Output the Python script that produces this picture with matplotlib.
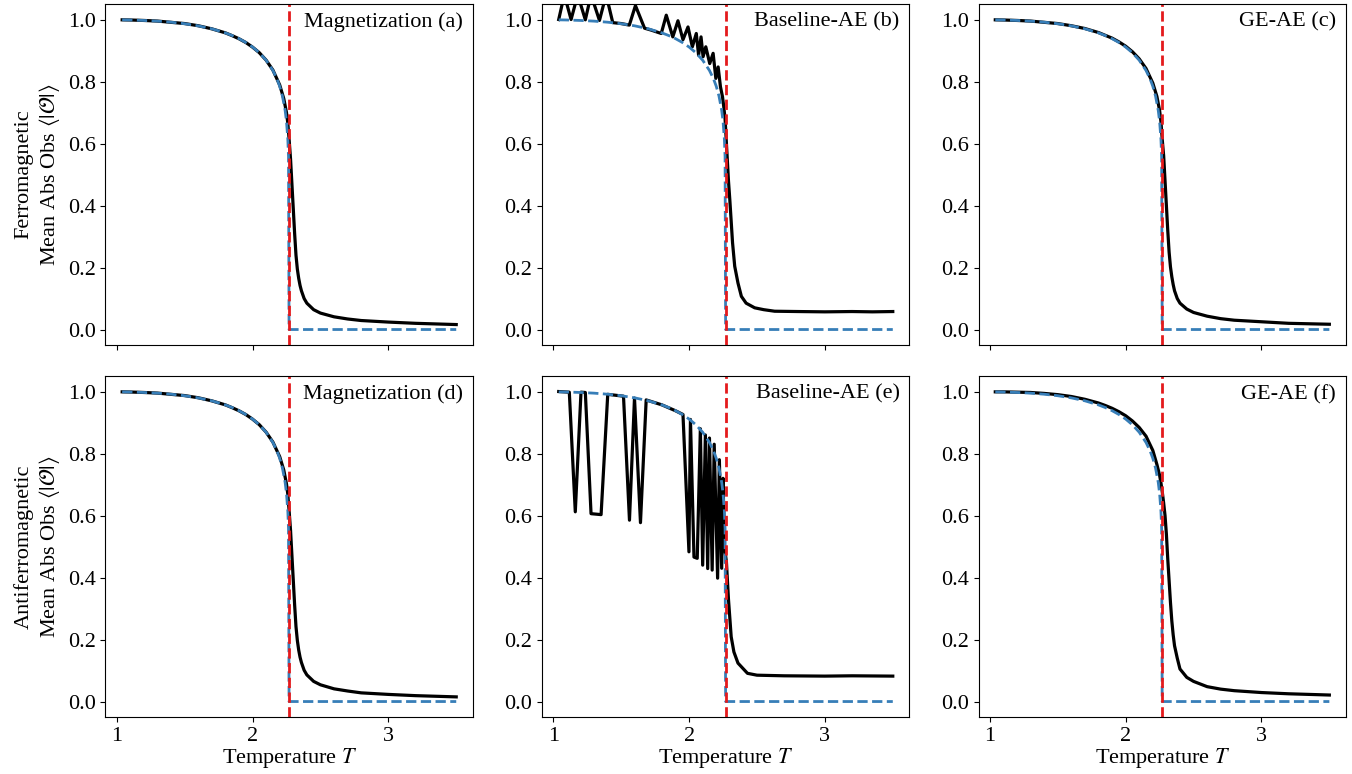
import numpy as np
import matplotlib
matplotlib.use('Agg')
import matplotlib.pyplot as plt

plt.rcParams['font.family'] = 'serif'
plt.rcParams['font.serif'] = ['Liberation Serif', 'DejaVu Serif']
plt.rcParams['mathtext.fontset'] = 'stix'
plt.rcParams['font.size'] = 16

T_C = 2.269

# exact (Onsager) curve
T_exact = [1.04, 1.1, 1.2, 1.3, 1.4, 1.5, 1.6, 1.7, 1.8, 1.85, 1.9, 1.95,
           2.0, 2.05, 2.1, 2.15, 2.18, 2.2, 2.22, 2.24, 2.25, 2.26, 2.265,
           2.269, 3.5]
m_exact = [0.999, 0.9985, 0.997, 0.9948, 0.9914, 0.9865, 0.9796, 0.9701,
           0.9569, 0.9484, 0.9383, 0.9261, 0.9113, 0.8928, 0.8688, 0.8357,
           0.8085, 0.7848, 0.7535, 0.7072, 0.6718, 0.6138, 0.557, 0.0, 0.0]

# smooth estimators (magnetization, GE-AE)
T_mc = [1.04, 1.1, 1.2, 1.3, 1.4, 1.5, 1.6, 1.7, 1.8, 1.85, 1.9, 1.95, 2.0,
        2.05, 2.1, 2.15, 2.2, 2.23, 2.25, 2.26, 2.27, 2.28, 2.29, 2.30, 2.31,
        2.32, 2.33, 2.34, 2.35, 2.36, 2.38, 2.40, 2.45, 2.5, 2.6, 2.7, 2.8,
        3.0, 3.2, 3.5]

mag_ferro = [0.999, 0.9985, 0.997, 0.995, 0.991, 0.987, 0.980, 0.970, 0.957,
             0.948, 0.938, 0.926, 0.911, 0.893, 0.869, 0.837, 0.789, 0.745,
             0.700, 0.665, 0.610, 0.550, 0.470, 0.390, 0.310, 0.240, 0.195,
             0.165, 0.142, 0.125, 0.100, 0.085, 0.064, 0.053, 0.041, 0.034,
             0.029, 0.024, 0.020, 0.016]

mag_anti = [0.999, 0.9985, 0.997, 0.995, 0.991, 0.987, 0.980, 0.970, 0.957,
            0.948, 0.938, 0.926, 0.911, 0.893, 0.869, 0.837, 0.790, 0.747,
            0.702, 0.668, 0.612, 0.552, 0.472, 0.392, 0.312, 0.242, 0.197,
            0.166, 0.143, 0.126, 0.101, 0.086, 0.065, 0.054, 0.041, 0.034,
            0.028, 0.023, 0.019, 0.015]

ge_ferro = [0.999, 0.9985, 0.997, 0.995, 0.991, 0.987, 0.980, 0.971, 0.958,
            0.949, 0.940, 0.928, 0.914, 0.896, 0.873, 0.842, 0.795, 0.752,
            0.707, 0.670, 0.610, 0.560, 0.480, 0.400, 0.320, 0.250, 0.202,
            0.170, 0.145, 0.125, 0.100, 0.085, 0.066, 0.055, 0.043, 0.035,
            0.030, 0.025, 0.020, 0.017]

ge_anti = [0.999, 0.999, 0.998, 0.997, 0.994, 0.990, 0.984, 0.975, 0.963,
           0.955, 0.946, 0.935, 0.922, 0.905, 0.884, 0.856, 0.810, 0.765,
           0.730, 0.705, 0.675, 0.640, 0.600, 0.540, 0.460, 0.390, 0.320,
           0.260, 0.215, 0.180, 0.140, 0.105, 0.078, 0.065, 0.048, 0.040,
           0.035, 0.029, 0.025, 0.021]

# baseline autoencoder, ferromagnetic (jumpy)
T_base_f = [1.04, 1.081, 1.131, 1.180, 1.236, 1.278, 1.340, 1.389, 1.438,
            1.5, 1.56, 1.605, 1.672, 1.72, 1.795, 1.832, 1.88, 1.918, 1.955,
            1.992, 2.024, 2.053, 2.07, 2.088, 2.103, 2.123, 2.152, 2.177,
            2.197, 2.214, 2.231, 2.246, 2.255, 2.265, 2.275, 2.29, 2.30,
            2.32, 2.336, 2.36, 2.385, 2.42, 2.483, 2.55, 2.63, 2.8, 3.0,
            3.2, 3.35, 3.5]
base_ferro = [1.0, 1.08, 1.0, 1.08, 0.999, 1.08, 0.997, 1.08, 0.990, 0.987,
              0.982, 1.045, 0.972, 0.966, 0.955, 1.014, 0.944, 0.996, 0.935,
              0.976, 0.912, 0.955, 0.885, 0.944, 0.88, 0.912, 0.858, 0.891,
              0.81, 0.847, 0.783, 0.751, 0.72, 0.68, 0.60, 0.48, 0.418, 0.28,
              0.204, 0.15, 0.107, 0.085, 0.07, 0.064, 0.059, 0.058, 0.057,
              0.058, 0.057, 0.058]

# baseline autoencoder, antiferromagnetic (dips)
T_base_af = [1.04, 1.118, 1.162, 1.204, 1.236, 1.278, 1.352, 1.401, 1.517,
             1.561, 1.598, 1.642, 1.684, 1.8, 1.9, 1.955, 1.999, 2.01, 2.036,
             2.06, 2.083, 2.10, 2.12, 2.137, 2.15, 2.17, 2.185, 2.21, 2.223,
             2.24, 2.25, 2.26, 2.275, 2.29, 2.31, 2.33, 2.36, 2.43, 2.5, 2.7,
             3.0, 3.2, 3.5]
base_anti = [1.0, 0.998, 0.612, 0.998, 0.997, 0.606, 0.603, 0.991, 0.985,
             0.585, 0.979, 0.577, 0.973, 0.957, 0.938, 0.926, 0.483, 0.91,
             0.466, 0.462, 0.88, 0.44, 0.86, 0.429, 0.85, 0.424, 0.83, 0.398,
             0.78, 0.43, 0.72, 0.50, 0.45, 0.33, 0.209, 0.16, 0.124, 0.091,
             0.085, 0.083, 0.082, 0.083, 0.082]

row_labels = ['Ferromagnetic', 'Antiferromagnetic']
panel_titles = [['Magnetization (a)', 'Baseline-AE (b)', 'GE-AE (c)'],
                ['Magnetization (d)', 'Baseline-AE (e)', 'GE-AE (f)']]
panel_data = [[(T_mc, mag_ferro), (T_base_f, base_ferro), (T_mc, ge_ferro)],
              [(T_mc, mag_anti), (T_base_af, base_anti), (T_mc, ge_anti)]]

BLUE = '#377eb8'
RED = '#e41a1c'

fig, axes = plt.subplots(2, 3, figsize=(13.52, 7.74), dpi=100, sharex=True)
fig.subplots_adjust(left=0.078, right=0.9956, top=0.9948, bottom=0.0736,
                    wspace=0.188, hspace=0.091)

for i in range(2):
    for j in range(3):
        ax = axes[i, j]
        T, obs = panel_data[i][j]
        ax.plot(T, obs, color='black', lw=2.3)
        ax.plot(T_exact, m_exact, color=BLUE, ls='--', lw=2)
        ax.axvline(T_C, color=RED, ls='--', lw=2)
        ax.set_ylim(-0.05, 1.05)
        ax.set_yticks([0.0, 0.2, 0.4, 0.6, 0.8, 1.0])
        ax.set_xticks([1, 2, 3])
        ax.text(0.973, 0.975, panel_titles[i][j], transform=ax.transAxes,
                ha='right', va='top', fontsize=16)
        if j == 0:
            ax.set_ylabel(row_labels[i] + '\n' +
                          r'Mean Abs Obs $\langle|\mathcal{O}|\rangle$',
                          fontsize=16)
        if i == 1:
            ax.set_xlabel('Temperature $T$', fontsize=16, labelpad=0)

fig.savefig('out.png', dpi=100)
